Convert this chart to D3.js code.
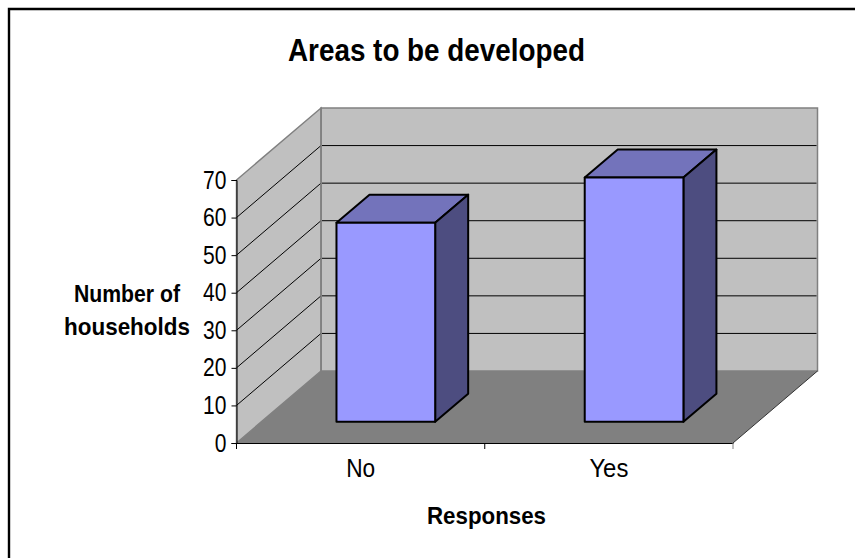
<!DOCTYPE html>
<html><head><meta charset="utf-8">
<script src="https://cdn.jsdelivr.net/npm/d3@7/dist/d3.min.js"></script>
<style>html,body{margin:0;padding:0;background:#fff}svg{display:block}text{font-family:"Liberation Sans",Arial,sans-serif;fill:#000}</style>
</head><body><svg id="c" width="855" height="558"></svg>
<script>
const categories = ["No", "Yes"];
const households = [53, 65];
const yTicks = [0, 10, 20, 30, 40, 50, 60, 70];
const titleText = "Areas to be developed";
const yTitleLines = ["Number of", "households"];
const xTitleText = "Responses";

const svg = d3.select("#c");
const x = d3.scaleBand().domain(categories).range([236.5, 733]).paddingInner(0).paddingOuter(0);
const y = d3.scaleLinear().domain([0, 70]).range([443, 180]);
const DX = 84.5, DY = -72;
const barW = 98.7, bdx = 33, bdy = -28, offX = 25.2, offY = -21.2;
const poly = pts => pts.map(p => p.join(",")).join(" ");
// the reference's text is tall and narrow: fit each string to its measured width
const fit = (sel, w) => sel.attr("textLength", w).attr("lengthAdjust", "spacingAndGlyphs");

// frame: only the top and left edges are visible
svg.append("path").attr("d", "M9,558V9H855").attr("fill", "none").attr("stroke", "#000").attr("stroke-width", 2.4);

const x0 = x.range()[0], x1 = x.range()[1], yb = y(0), yt = y(70);
const wallStroke = "#808080";
// back wall
svg.append("polygon").attr("points", poly([[x0+DX,yb+DY],[x1+DX,yb+DY],[x1+DX,yt+DY],[x0+DX,yt+DY]])).attr("fill", "#c0c0c0").attr("stroke", wallStroke).attr("stroke-width", 1.5);
// side wall
svg.append("polygon").attr("points", poly([[x0,yb],[x0+DX,yb+DY],[x0+DX,yt+DY],[x0,yt]])).attr("fill", "#c0c0c0").attr("stroke", wallStroke).attr("stroke-width", 1.5);
// floor
svg.append("polygon").attr("points", poly([[x0,yb],[x1,yb],[x1+DX,yb+DY],[x0+DX,yb+DY]])).attr("fill", "#808080");
svg.append("line").attr("x1", x1).attr("y1", yb).attr("x2", x1+DX).attr("y2", yb+DY).attr("stroke", "#333").attr("stroke-width", 1);

// gridlines
yTicks.filter(t => t > 0 && t < 70).forEach(t => {
  svg.append("line").attr("x1", x0).attr("y1", y(t)).attr("x2", x0+DX).attr("y2", y(t)+DY).attr("stroke", "#000").attr("stroke-width", 1);
  svg.append("line").attr("x1", x0+DX+1).attr("y1", y(t)+DY).attr("x2", x1+DX-1).attr("y2", y(t)+DY).attr("stroke", "#000").attr("stroke-width", 1);
});
// re-draw back corner
svg.append("line").attr("x1", x0+DX).attr("y1", yt+DY).attr("x2", x0+DX).attr("y2", yb+DY).attr("stroke", wallStroke).attr("stroke-width", 1.5);

// bars
categories.forEach((c, i) => {
  const cx = x(c) + x.bandwidth()/2 + offX;
  const l = cx - barW/2, r = cx + barW/2;
  const b = y(0) + offY, t = y(households[i]) + offY;
  const g = svg.append("g").attr("stroke", "#000").attr("stroke-width", 2).attr("stroke-linejoin", "round");
  g.append("polygon").attr("points", poly([[l,t],[r,t],[r+bdx,t+bdy],[l+bdx,t+bdy]])).attr("fill", "#7373bb");
  g.append("polygon").attr("points", poly([[r,t],[r+bdx,t+bdy],[r+bdx,b+bdy],[r,b]])).attr("fill", "#4d4d80");
  g.append("rect").attr("x", l).attr("y", t).attr("width", barW).attr("height", b-t).attr("fill", "#9999ff");
});

// y axis
const yAxis = svg.append("g").attr("transform", `translate(${x0},0)`).call(d3.axisLeft(y).tickValues(yTicks).tickSize(5).tickPadding(5).tickFormat(d3.format("d")));
yAxis.select(".domain").attr("stroke", "#000").attr("stroke-width", 1);
yAxis.selectAll(".tick line").attr("stroke", "#000");
yAxis.selectAll("text").style("font-family", '"Liberation Sans",Arial,sans-serif').style("font-size", "25px").attr("fill", "#000")
  .attr("textLength", d => String(d).length * 11.7).attr("lengthAdjust", "spacingAndGlyphs");

// x axis
const xAxis = svg.append("g").attr("transform", `translate(0,${yb})`).call(d3.axisBottom(x).tickSize(0).tickPadding(16).tickFormat(d => d));
xAxis.select(".domain").attr("stroke", "#000").attr("stroke-width", 1);
xAxis.selectAll("text").style("font-family", '"Liberation Sans",Arial,sans-serif').style("font-size", "25px").attr("fill", "#000")
  .attr("textLength", d => d === "No" ? 29 : 39).attr("lengthAdjust", "spacingAndGlyphs");
[x0, x0 + x.bandwidth(), x1].forEach((tx, i) => {
  svg.append("line").attr("x1", tx).attr("y1", yb).attr("x2", tx).attr("y2", yb+6).attr("stroke", i === 2 ? "#808080" : "#000");
});

// titles
fit(svg.append("text").attr("x", 436.5).attr("y", 61).attr("text-anchor", "middle").style("font-size", "32px").style("font-weight", "bold").text(titleText), 297);
svg.selectAll(".yt").data(yTitleLines).enter().append("text").attr("class", "yt").attr("x", 127).attr("y", (d, i) => 301.5 + i*33).attr("text-anchor", "middle").style("font-size", "24px").style("font-weight", "bold").text(d => d)
  .attr("textLength", (d, i) => i === 0 ? 106 : 126).attr("lengthAdjust", "spacingAndGlyphs");
fit(svg.append("text").attr("x", 486.5).attr("y", 523.5).attr("text-anchor", "middle").style("font-size", "24px").style("font-weight", "bold").text(xTitleText), 119);
</script></body></html>
